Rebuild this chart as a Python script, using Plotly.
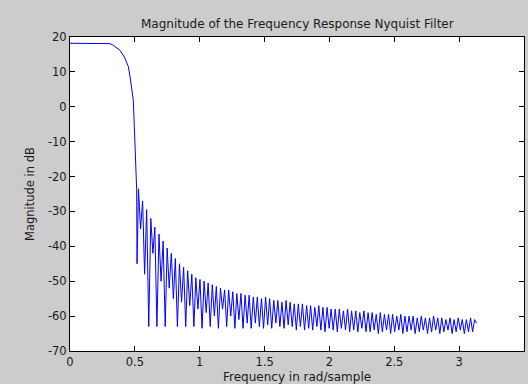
import plotly.graph_objects as go

# Passband / transition region (rad/sample, dB)
pass_freq = [0.0, 0.10, 0.20, 0.29, 0.308, 0.33, 0.36, 0.385, 0.42, 0.45, 0.463, 0.478,
             0.488, 0.496, 0.501, 0.508, 0.514, 0.517]
pass_db = [18.2, 18.2, 18.2, 18.2, 18.1, 17.7, 17.0, 16.2, 14.2, 11.5, 8.6, 5.0,
           1.9, -5.7, -10.0, -16.0, -23.8, -45.0]

# Stopband ripple: peak / trough frequencies (rad/sample)
stop_freq = [
    0.528, 0.544, 0.560, 0.575, 0.591, 0.607, 0.623, 0.639, 0.654, 0.670,
    0.686, 0.702, 0.718, 0.734, 0.749, 0.765, 0.781, 0.797, 0.812, 0.828,
    0.844, 0.860, 0.876, 0.892, 0.907, 0.923, 0.939, 0.955, 0.970, 0.986,
    1.002, 1.018, 1.034, 1.050, 1.065, 1.081, 1.097, 1.113, 1.128, 1.144,
    1.160, 1.176, 1.192, 1.208, 1.223, 1.239, 1.255, 1.271, 1.286, 1.302,
    1.318, 1.334, 1.350, 1.366, 1.381, 1.397, 1.413, 1.429, 1.444, 1.460,
    1.476, 1.492, 1.508, 1.524, 1.539, 1.555, 1.571, 1.587, 1.602, 1.618,
    1.634, 1.650, 1.666, 1.682, 1.697, 1.713, 1.729, 1.745, 1.760, 1.776,
    1.792, 1.808, 1.824, 1.840, 1.855, 1.871, 1.887, 1.903, 1.918, 1.934,
    1.950, 1.966, 1.982, 1.998, 2.013, 2.029, 2.045, 2.061, 2.076, 2.092,
    2.108, 2.124, 2.140, 2.156, 2.171, 2.187, 2.203, 2.219, 2.234, 2.250,
    2.266, 2.282, 2.298, 2.314, 2.329, 2.345, 2.361, 2.377, 2.392, 2.408,
    2.424, 2.440, 2.456, 2.472, 2.487, 2.503, 2.519, 2.535, 2.550, 2.566,
    2.582, 2.598, 2.614, 2.630, 2.645, 2.661, 2.677, 2.693, 2.708, 2.724,
    2.740, 2.756, 2.772, 2.788, 2.803, 2.819, 2.835, 2.851, 2.866, 2.882,
    2.898, 2.914, 2.930, 2.946, 2.961, 2.977, 2.993, 3.009, 3.024, 3.040,
    3.056, 3.072, 3.088, 3.104, 3.119, 3.135,
]
stop_db = [
    -23.5, -35.0, -27.0, -48.0, -29.5, -63.0, -32.0, -42.0, -34.5, -63.0,
    -36.5, -50.0, -38.5, -63.0, -40.5, -52.0, -42.0, -55.0, -43.5, -63.0,
    -45.0, -56.0, -46.0, -63.0, -47.0, -57.0, -48.0, -63.0, -49.0, -58.0,
    -49.5, -63.5, -50.0, -59.0, -50.5, -63.0, -51.0, -60.0, -51.5, -63.5,
    -52.0, -58.0, -52.5, -63.0, -52.5, -60.0, -53.0, -63.5, -53.5, -61.0,
    -53.5, -63.5, -54.0, -62.0, -54.0, -63.5, -54.5, -62.0, -54.5, -63.0,
    -55.0, -63.5, -54.5, -62.5, -55.0, -63.5, -55.5, -62.0, -55.5, -63.0,
    -56.0, -63.5, -55.5, -62.5, -56.0, -63.0, -56.5, -64.0, -56.5, -63.0,
    -56.5, -64.0, -57.0, -63.5, -57.0, -64.0, -57.5, -63.0, -57.0, -64.0,
    -57.5, -64.5, -57.5, -63.5, -58.0, -64.0, -58.0, -64.5, -58.0, -63.5,
    -58.5, -64.0, -58.0, -64.5, -58.5, -64.0, -58.5, -64.5, -59.0, -63.5,
    -58.5, -64.5, -59.0, -64.5, -59.0, -64.0, -59.5, -65.0, -59.0, -64.5,
    -59.5, -64.0, -59.5, -65.0, -59.5, -64.5, -60.0, -64.0, -59.5, -65.0,
    -60.0, -64.5, -60.0, -64.0, -60.0, -65.0, -60.5, -64.5, -60.0, -64.0,
    -60.5, -65.0, -60.5, -64.5, -60.0, -64.0, -60.5, -65.0, -60.5, -64.5,
    -61.0, -64.0, -60.5, -65.0, -61.0, -64.5, -60.5, -64.0, -61.0, -65.0,
    -61.0, -64.5, -60.5, -64.5, -61.0, -62.0,
]

freq = pass_freq + stop_freq
mag_db = pass_db + stop_db

x_ticks = [0, 0.5, 1, 1.5, 2, 2.5, 3, 3.5]
x_tick_labels = ["0", "0.5", "1", "1.5", "2", "2.5", "3", "3.5"]
y_ticks = [-70, -60, -50, -40, -30, -20, -10, 0, 10, 20]
y_tick_labels = ["-70", "-60", "-50", "-40", "-30", "-20", "-10", "0", "10", "20"]

title_text = "Magnitude of the Frequency Response Nyquist Filter"
x_title = "Frequency in rad/sample"
y_title = "Magnitude in dB"

font_family = "DejaVu Sans, Liberation Sans, Arial, sans-serif"
text_color = "#1a1a1a"

W, H = 528, 384
L, R, T, B = 70, 4, 37, 33
PW, PH = W - L - R, H - T - B

fig = go.Figure()
fig.add_trace(go.Scatter(
    x=freq, y=mag_db, mode="lines",
    line=dict(color="#0000ff", width=1),
    showlegend=False, hoverinfo="skip",
))

axis_common = dict(
    showgrid=False, zeroline=False, showline=True, linecolor="#000000",
    linewidth=1, mirror="ticks", ticks="inside", ticklen=5, tickwidth=1,
    tickcolor="#000000", automargin=False,
    tickfont=dict(family=font_family, size=11.5, color=text_color),
)

fig.update_layout(
    width=W, height=H,
    paper_bgcolor="#cccccc", plot_bgcolor="#ffffff",
    margin=dict(l=L, r=R, t=T, b=B, autoexpand=False),
    xaxis=dict(range=[0, 3.5], tickvals=x_ticks, ticktext=x_tick_labels, **axis_common),
    yaxis=dict(range=[-70, 20], tickvals=y_ticks, ticktext=y_tick_labels, **axis_common),
)

fig.add_annotation(text=title_text, xref="paper", yref="paper",
                   x=0.5, y=(H - 24 - B) / PH,
                   xanchor="center", yanchor="middle", showarrow=False,
                   font=dict(family=font_family, size=12, color=text_color))
fig.add_annotation(text=x_title, xref="paper", yref="paper",
                   x=0.5, y=(H - 377 - B) / PH,
                   xanchor="center", yanchor="middle", showarrow=False,
                   font=dict(family=font_family, size=12, color=text_color))
fig.add_annotation(text=y_title, xref="paper", yref="paper",
                   x=(30 - L) / PW, y=0.5, textangle=-90,
                   xanchor="center", yanchor="middle", showarrow=False,
                   font=dict(family=font_family, size=11.5, color=text_color))

fig.write_html("out.html", config={"displayModeBar": False},
               post_script="document.body.style.margin='0';document.body.style.padding='0';")
